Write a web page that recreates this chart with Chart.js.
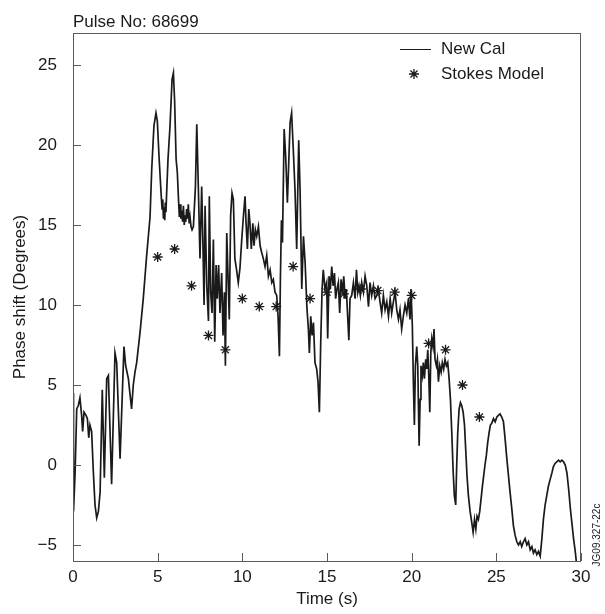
<!DOCTYPE html>
<html>
<head>
<meta charset="utf-8">
<title>Pulse No: 68699</title>
<script src="https://cdn.jsdelivr.net/npm/chart.js@4"></script>
<style>
  html, body { margin: 0; padding: 0; background: #fff; }
  canvas { display: block; }
</style>
</head>
<body>
<canvas id="phaseChart" width="605" height="614"></canvas>
<script>
// interferometer phase shift vs time, pulse 68699
const newCalTime = [
  0.00, 0.03, 0.12, 0.22, 0.31, 0.41, 0.51, 0.57, 0.65, 0.77, 0.85, 0.93, 1.00, 1.10, 1.20, 1.30, 1.40, 1.50, 1.60,
  1.73, 1.85, 1.99, 2.09, 2.28, 2.48, 2.58, 2.78, 3.01, 3.11, 3.27, 3.37, 3.46, 3.56, 3.66, 3.76, 3.96, 4.15, 4.35,
  4.55, 4.65, 4.78, 4.90, 4.98, 5.08, 5.20, 5.26, 5.30, 5.34, 5.38, 5.42, 5.45, 5.49, 5.53, 5.61, 5.73, 5.85, 5.93,
  6.00, 6.09, 6.16, 6.24, 6.28, 6.32, 6.37, 6.42, 6.47, 6.52, 6.57, 6.62, 6.66, 6.71, 6.76, 6.81, 6.86, 6.91, 6.97,
  7.03, 7.11, 7.23, 7.31, 7.41, 7.50, 7.60, 7.66, 7.74, 7.80, 7.90, 8.00, 8.05, 8.13, 8.21, 8.29, 8.37, 8.45, 8.52,
  8.60, 8.68, 8.78, 8.86, 8.94, 9.00, 9.08, 9.15, 9.23, 9.31, 9.39, 9.47, 9.56, 9.66, 9.76, 9.86, 9.96, 10.06, 10.16,
  10.22, 10.30, 10.38, 10.45, 10.53, 10.62, 10.69, 10.77, 10.85, 10.95, 11.05, 11.14, 11.24, 11.34, 11.44, 11.54,
  11.64, 11.74, 11.83, 11.93, 12.03, 12.11, 12.19, 12.25, 12.31, 12.37, 12.47, 12.56, 12.66, 12.74, 12.82, 12.91,
  13.01, 13.11, 13.21, 13.33, 13.41, 13.51, 13.61, 13.71, 13.81, 13.90, 13.96, 14.04, 14.12, 14.20, 14.29, 14.39,
  14.47, 14.55, 14.63, 14.71, 14.78, 14.88, 14.98, 15.04, 15.12, 15.20, 15.28, 15.36, 15.44, 15.51, 15.59, 15.67,
  15.75, 15.83, 15.91, 15.99, 16.07, 16.14, 16.22, 16.29, 16.36, 16.46, 16.56, 16.66, 16.74, 16.82, 16.89, 16.97,
  17.05, 17.15, 17.25, 17.35, 17.45, 17.54, 17.64, 17.74, 17.84, 17.94, 18.03, 18.13, 18.23, 18.33, 18.43, 18.53,
  18.63, 18.73, 18.82, 18.92, 19.02, 19.12, 19.22, 19.31, 19.41, 19.51, 19.61, 19.71, 19.81, 19.90, 19.96, 20.04,
  20.10, 20.16, 20.22, 20.30, 20.36, 20.44, 20.50, 20.55, 20.63, 20.69, 20.75, 20.83, 20.89, 20.95, 21.01, 21.07,
  21.13, 21.19, 21.26, 21.32, 21.38, 21.46, 21.52, 21.58, 21.66, 21.74, 21.81, 21.89, 21.97, 22.05, 22.13, 22.21,
  22.29, 22.37, 22.45, 22.52, 22.60, 22.66, 22.72, 22.80, 22.88, 22.96, 23.04, 23.12, 23.19, 23.27, 23.35, 23.45,
  23.55, 23.63, 23.71, 23.79, 23.86, 23.94, 24.02, 24.10, 24.18, 24.25, 24.33, 24.41, 24.49, 24.57, 24.65, 24.73,
  24.83, 24.93, 25.03, 25.12, 25.22, 25.32, 25.42, 25.52, 25.62, 25.72, 25.81, 25.91, 26.01, 26.11, 26.21, 26.31,
  26.41, 26.50, 26.60, 26.70, 26.80, 26.90, 27.00, 27.10, 27.19, 27.29, 27.39, 27.49, 27.59, 27.69, 27.78, 27.88,
  27.98, 28.08, 28.18, 28.28, 28.37, 28.47, 28.57, 28.67, 28.77, 28.87, 28.97, 29.07, 29.17, 29.27, 29.37, 29.46,
  29.56, 29.66, 29.72
];
const newCalPhase = [
  4.5, -2.9, -0.6, 3.5, 3.7, 4.2, 3.1, 2.1, 3.3, 3.1, 2.9, 1.7, 2.5, 2.1, -0.4, -2.5, -3.3, -2.9, -1.7,
  4.7, -0.8, 5.4, 5.6, -1.2, 7.0, 6.4, 0.4, 7.4, 6.2, 5.4, 4.4, 3.5, 5.0, 5.8, 6.4, 8.3, 10.4, 13.1,
  15.5, 18.5, 21.2, 22.0, 21.5, 19.3, 17.0, 16.0, 16.6, 15.4, 16.1, 15.3, 16.4, 15.8, 17.0, 19.1, 21.2, 24.1, 24.5,
  22.8, 19.1, 18.3, 16.4, 15.5, 16.3, 15.4, 15.9, 15.2, 16.2, 15.0, 15.6, 15.2, 16.0, 15.4, 16.3, 15.1, 15.5, 14.9,
  14.7, 14.9, 17.4, 21.3, 17.0, 12.9, 17.4, 14.5, 10.0, 16.2, 11.2, 9.0, 16.8, 10.8, 9.5, 14.1, 7.7, 12.5, 10.4,
  12.5, 9.5, 12.0, 8.1, 10.8, 6.2, 14.5, 12.0, 9.1, 15.6, 17.0, 16.6, 12.9, 12.2, 11.4, 12.3, 14.0, 15.5, 16.8,
  15.1, 13.5, 16.0, 15.1, 13.5, 15.1, 13.7, 14.7, 14.3, 14.9, 13.7, 13.3, 12.9, 12.4, 13.1, 11.8,
  12.2, 11.4, 11.6, 10.8, 10.6, 9.3, 6.8, 11.8, 15.3, 13.9, 21.0, 19.3, 16.4, 18.9, 21.4, 22.0,
  19.7, 17.2, 13.5, 20.3, 17.2, 11.0, 14.3, 12.6, 9.9, 8.5, 7.0, 9.3, 8.1, 8.9, 6.4, 6.0,
  5.2, 3.3, 7.7, 11.0, 12.2, 11.0, 11.4, 7.9, 11.8, 11.0, 12.4, 11.2, 12.0, 10.4, 11.0, 11.4,
  9.5, 11.6, 10.8, 11.8, 10.4, 11.0, 9.3, 7.8, 10.4, 10.6, 11.4, 10.4, 12.2, 10.8, 11.2, 10.6,
  11.4, 10.8, 11.8, 11.2, 9.9, 11.4, 10.6, 11.2, 10.4, 10.6, 11.0, 10.2, 9.5, 10.6, 9.7, 10.2,
  9.3, 10.4, 9.5, 10.2, 10.8, 9.7, 9.1, 9.7, 8.5, 9.3, 10.0, 9.5, 10.4, 9.1, 11.0, 8.7,
  5.2, 2.5, 6.2, 7.4, 6.2, 1.2, 4.1, 6.2, 5.6, 6.4, 5.4, 6.6, 6.0, 7.2, 5.6, 3.3,
  7.0, 7.9, 7.4, 8.5, 6.6, 6.2, 6.6, 5.2, 6.2, 5.8, 6.4, 6.0, 6.6, 6.2, 6.4, 5.4,
  4.1, 2.0, -0.4, -1.9, -2.5, 0.0, 2.0, 3.5, 3.9, 3.7, 3.3, 2.5, 1.0, -0.7, -1.9, -2.9,
  -3.6, -4.2, -3.4, -4.0, -3.2, -3.4, -2.9, -2.1, -1.3, -0.7, 0.0, 0.6, 1.4, 2.0, 2.5, 2.6,
  2.9, 2.7, 3.0, 3.1, 3.2, 3.0, 2.7, 1.6, 0.4, -0.7, -1.7, -2.7, -3.8, -4.4, -4.8, -5.0,
  -4.8, -5.1, -4.8, -4.6, -5.0, -4.8, -5.3, -5.1, -5.5, -5.3, -5.6, -5.4, -5.7, -4.6, -3.4, -2.5,
  -1.9, -1.3, -0.9, -0.5, -0.1, 0.1, 0.2, 0.3, 0.2, 0.3, 0.2, 0.0, -0.5, -1.5, -2.7, -3.6,
  -4.6, -5.4, -6.0
];

// Stokes model evaluated once per second
const stokesTime = [5, 6, 7, 8, 9, 10, 11, 12, 13, 14, 15, 16, 17, 18, 19, 20, 21, 22, 23, 24];
const stokesPhase = [13.0, 13.5, 11.2, 8.1, 7.2, 10.4, 9.9, 9.9, 12.4, 10.4, 10.8, 10.7, 11.0, 10.9, 10.8, 10.6, 7.6, 7.2, 5.0, 3.0];

const xTicks = [0, 5, 10, 15, 20, 25, 30];
const yTicks = [-5, 0, 5, 10, 15, 20, 25];

const FONT = "'Liberation Sans', Arial, Helvetica, sans-serif";
const INK = '#1a1a1a';
const AXIS = '#5a5a5a';

const toPoints = (xs, ys) => xs.map((t, i) => ({ x: t, y: ys[i] }));

// frame, inward tick marks, legend and caption text
const framePlugin = {
  id: 'framePlugin',
  afterDraw(chart) {
    const { ctx, chartArea: a, scales } = chart;
    ctx.save();
    ctx.strokeStyle = AXIS;
    ctx.lineWidth = 1;
    ctx.strokeRect(a.left + 0.5, a.top + 0.5, a.right - a.left - 1, a.bottom - a.top);

    ctx.beginPath();
    scales.y.ticks.forEach(t => {
      const py = Math.round(scales.y.getPixelForValue(t.value)) + 0.5;
      ctx.moveTo(a.left, py);
      ctx.lineTo(a.left + 8, py);
    });
    scales.x.ticks.forEach(t => {
      const px = Math.round(scales.x.getPixelForValue(t.value)) + 0.5;
      ctx.moveTo(px, a.bottom);
      ctx.lineTo(px, a.bottom - 8);
    });
    ctx.stroke();

    // legend
    const ds = chart.data.datasets;
    ctx.fillStyle = INK;
    ctx.font = '17px ' + FONT;
    ctx.textBaseline = 'middle';
    ctx.textAlign = 'left';
    ctx.strokeStyle = INK;
    ctx.beginPath();
    ctx.moveTo(400, 49.5);
    ctx.lineTo(431, 49.5);
    ctx.stroke();
    ctx.fillText(ds[0].label, 441, 49);
    drawAsterisk(ctx, 414, 74, 5);
    ctx.fillText(ds[1].label, 441, 74);

    // pulse number above the frame
    ctx.textBaseline = 'alphabetic';
    ctx.fillText('Pulse No: 68699', a.left, 27);

    // figure reference along the right edge
    ctx.translate(597, 535);
    ctx.rotate(-Math.PI / 2);
    ctx.font = '10px ' + FONT;
    ctx.textAlign = 'center';
    ctx.textBaseline = 'middle';
    ctx.fillText('JG09.327-22c', 0, 0);
    ctx.restore();
  }
};

function drawAsterisk(ctx, cx, cy, r) {
  ctx.save();
  ctx.strokeStyle = INK;
  ctx.lineWidth = 1.3;
  ctx.beginPath();
  for (let k = 0; k < 4; k++) {
    const ang = k * Math.PI / 4;
    ctx.moveTo(cx - r * Math.sin(ang), cy - r * Math.cos(ang));
    ctx.lineTo(cx + r * Math.sin(ang), cy + r * Math.cos(ang));
  }
  ctx.stroke();
  ctx.restore();
}

new Chart(document.getElementById('phaseChart'), {
  type: 'scatter',
  data: {
    datasets: [
      {
        label: 'New Cal',
        data: toPoints(newCalTime, newCalPhase),
        showLine: true,
        borderColor: INK,
        borderWidth: 1.7,
        pointRadius: 0,
        tension: 0
      },
      {
        label: 'Stokes Model',
        data: toPoints(stokesTime, stokesPhase),
        showLine: false,
        pointStyle: 'star',
        pointRadius: 5,
        borderColor: INK,
        borderWidth: 1.3,
        backgroundColor: INK
      }
    ]
  },
  options: {
    responsive: false,
    animation: false,
    layout: { padding: { top: 33, right: 24, left: 0, bottom: 0 } },
    plugins: {
      legend: { display: false },
      tooltip: { enabled: false }
    },
    scales: {
      x: {
        type: 'linear',
        min: 0,
        max: 30,
        grid: { display: false, drawTicks: false },
        border: { display: false },
        afterBuildTicks: s => { s.ticks = xTicks.map(v => ({ value: v })); },
        afterFit: s => { s.height = 53; },
        ticks: {
          color: INK,
          padding: 6,
          maxRotation: 0,
          font: { family: FONT, size: 17 }
        },
        title: {
          display: true,
          text: 'Time (s)',
          color: INK,
          font: { family: FONT, size: 17 },
          padding: { top: 0, bottom: 4 }
        }
      },
      y: {
        min: -6,
        max: 27,
        grid: { display: false, drawTicks: false },
        border: { display: false },
        afterBuildTicks: s => { s.ticks = yTicks.map(v => ({ value: v })); },
        afterFit: s => { s.width = 73; },
        ticks: {
          color: INK,
          padding: 16,
          font: { family: FONT, size: 17 },
          callback: v => String(v).replace('-', '\u2212')
        },
        title: {
          display: true,
          text: 'Phase shift (Degrees)',
          color: INK,
          font: { family: FONT, size: 17 },
          padding: { top: 10, bottom: 0 }
        }
      }
    }
  },
  plugins: [framePlugin]
});
</script>
</body>
</html>
